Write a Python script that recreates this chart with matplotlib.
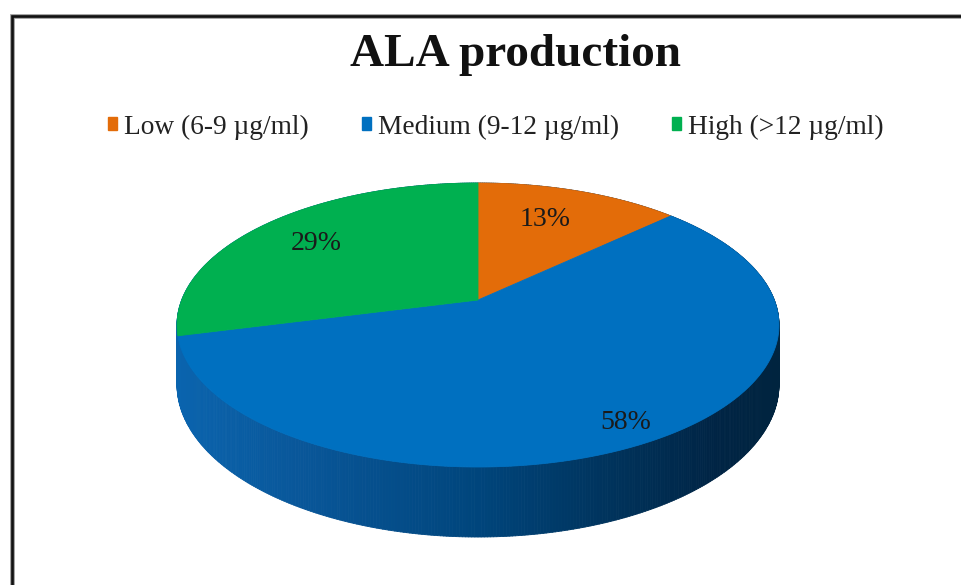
import numpy as np
import matplotlib
matplotlib.use("Agg")
import matplotlib.pyplot as plt
from matplotlib.patches import Polygon, Patch
from matplotlib.collections import PolyCollection
from matplotlib.lines import Line2D
from matplotlib.colors import LinearSegmentedColormap

# ---- data -------------------------------------------------------------
categories = ["Low (6-9 \u00b5g/ml)", "Medium (9-12 \u00b5g/ml)", "High (>12 \u00b5g/ml)"]
shares = [13, 58, 29]
pct_labels = ["13%", "58%", "29%"]
colors = ["#E36C09", "#0070C0", "#00B050"]

# ---- figure in pixel coordinates -------------------------------------
W, H = 961, 585
fig = plt.figure(figsize=(W / 100, H / 100), dpi=100)
ax = fig.add_axes([0, 0, 1, 1])
ax.set_xlim(0, W)
ax.set_ylim(H, 0)
ax.axis("off")

SERIF = ["Liberation Serif", "DejaVu Serif"]

# perspective disk: apex position, radii, perspective strength, thickness
CX, CY = 478, 300
RA, RB, K, THICK = 296.3, 137.6, 0.176, 57.7
label_r = [0.70, 0.86, 0.71]
label_shift = [(-7, -1), (6, 3), (-7, -1)]


def project(u, v, drop=0.0):
    w = 1.0 - K * v
    return CX + RA * u / w, CY + (RB * v + drop) / w


def rim(phi, r=1.0, drop=0.0):
    return project(r * np.sin(phi), -r * np.cos(phi), drop)


# ---- side wall with horizontal shading -------------------------------
wall_cmap = LinearSegmentedColormap.from_list(
    "wall",
    [(0.0, "#0a64ae"), (0.2, "#09579a"), (0.5, "#00457c"),
     (0.72, "#00335c"), (0.9, "#002444"), (1.0, "#00243f")],
)
phis = np.linspace(0, 2 * np.pi, 721)
tx, ty = rim(phis)
bx, by = rim(phis, drop=THICK)
order = np.argsort(-np.cos(phis[:-1]))  # back segments first
quads, qcols = [], []
xmin, xmax = tx.min(), tx.max()
for i in order:
    q = [(tx[i], ty[i]), (tx[i + 1], ty[i + 1]), (bx[i + 1], by[i + 1]), (bx[i], by[i])]
    xm = 0.5 * (tx[i] + tx[i + 1])
    quads.append(q)
    qcols.append(wall_cmap((xm - xmin) / (xmax - xmin)))
ax.add_collection(PolyCollection(quads, facecolors=qcols, edgecolors=qcols,
                                 linewidths=0.6, zorder=2))

# ---- top face wedges (clockwise from 12 o'clock) ---------------------
bounds = np.concatenate([[0], np.cumsum(shares)]) / sum(shares) * 2 * np.pi
for k in range(len(shares)):
    a0, a1 = bounds[k], bounds[k + 1]
    ph = np.linspace(a0, a1, max(int((a1 - a0) / (2 * np.pi) * 720), 4))
    px, py = rim(ph)
    pts = np.column_stack([np.r_[CX, px], np.r_[CY, py]])
    ax.add_patch(Polygon(pts, closed=True, facecolor=colors[k],
                         edgecolor=colors[k], linewidth=0.6, zorder=3))
    lx, ly = rim(0.5 * (a0 + a1), r=label_r[k])
    ax.text(lx + label_shift[k][0], ly + label_shift[k][1], pct_labels[k],
            ha="center", va="center", fontsize=20, family=SERIF,
            color="#1a1a1a", zorder=5)

# ---- chart frame ------------------------------------------------------
ax.add_line(Line2D([11.5, 11.5, W + 5], [H + 5, 15.5, 15.5], color="#9a9a9a",
                   linewidth=3.4, solid_joinstyle="miter", zorder=1))
ax.add_line(Line2D([11.5, 11.5, W + 5], [H + 5, 15.5, 15.5], color="#111111",
                   linewidth=1.9, solid_joinstyle="miter", zorder=1))

# ---- title and legend -------------------------------------------------
ax.text(516, 66, "ALA production", ha="center", va="baseline",
        fontsize=34, fontweight="bold", family=SERIF, color="#111111")

handles = [Patch(facecolor=c, edgecolor=c) for c in colors]
fig.legend(handles, categories, loc="center", ncol=3,
           bbox_to_anchor=(496 / W, 1 - 127 / H), frameon=False,
           prop={"family": SERIF, "size": 19.7},
           handlelength=0.33, handleheight=0.33, handletextpad=0.25,
           columnspacing=1.95, labelcolor="#222222")

fig.savefig("out.png", dpi=100, facecolor="white")
